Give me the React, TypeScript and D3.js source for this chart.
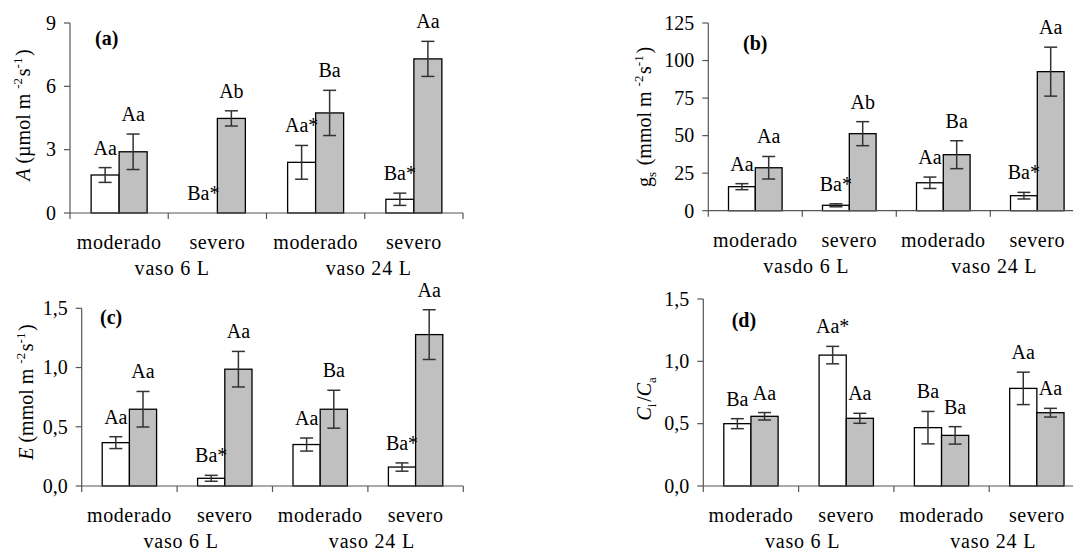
import React from "react";
import * as d3 from "d3";

// categories
const groups = ["moderado", "severo", "moderado", "severo"];
const vasoA = ["vaso 6 L", "vaso 24 L"];
const vasoB = ["vasdo 6 L", "vaso 24 L"];

// (a) A
const aWhite = [1.8, 0, 2.4, 0.65];
const aWhiteErr = [0.35, 0, 0.8, 0.29];
const aGray = [2.9, 4.48, 4.74, 7.3];
const aGrayErr = [0.84, 0.36, 1.07, 0.83];
const aWhiteLbl = ["Aa", "Ba*", "Aa*", "Ba*"];
const aGrayLbl = ["Aa", "Ab", "Ba", "Aa"];
const aTicks = [0, 3, 6, 9];

// (b) gs
const bWhite = [16, 3.6, 18.6, 10];
const bWhiteErr = [2, 1, 3.8, 2.2];
const bGray = [28.6, 51.3, 37.3, 92.6];
const bGrayErr = [7.5, 8, 9.3, 16.3];
const bWhiteLbl = ["Aa", "Ba*", "Aa", "Ba*"];
const bGrayLbl = ["Aa", "Ab", "Ba", "Aa"];
const bTicks = [0, 25, 50, 75, 100, 125];

// (c) E
const cWhite = [0.366, 0.065, 0.35, 0.16];
const cWhiteErr = [0.05, 0.025, 0.055, 0.035];
const cGray = [0.648, 0.986, 0.648, 1.278];
const cGrayErr = [0.15, 0.15, 0.16, 0.21];
const cWhiteLbl = ["Aa", "Ba*", "Aa", "Ba*"];
const cGrayLbl = ["Aa", "Aa", "Ba", "Aa"];
const cTicks = [0, 0.5, 1, 1.5];

// (d) Ci/Ca
const dWhite = [0.5, 1.05, 0.468, 0.783];
const dWhiteErr = [0.04, 0.07, 0.13, 0.13];
const dGray = [0.559, 0.543, 0.406, 0.588];
const dGrayErr = [0.03, 0.04, 0.07, 0.035];
const dWhiteLbl = ["Ba", "Aa*", "Ba", "Aa"];
const dGrayLbl = ["Aa", "Aa", "Ba", "Aa"];
const dTicks = [0, 0.5, 1, 1.5];

const FONT = "Liberation Serif, Tinos, DejaVu Serif, serif";
const comma = (d) => d3.format(".1f")(d).replace(".", ",");

const Panel = ({ p }) => {
  const x = d3
    .scaleBand()
    .domain(groups.map((g, i) => i))
    .range([p.left, p.right])
    .padding(0);
  const gw = x.bandwidth();
  const barW = gw * 0.285;
  const y = d3.scaleLinear().domain(p.domain).range([p.bottom, p.top]);

  const series = [
    { vals: p.white, err: p.whiteErr, lbl: p.whiteLbl, fill: "#ffffff", off: -barW },
    { vals: p.gray, err: p.grayErr, lbl: p.grayLbl, fill: "#c0c0c0", off: 0 },
  ];

  return (
    <g>
      {/* bars */}
      {series.map((s, si) =>
        s.vals.map((v, i) => {
          const cx = x(i) + gw / 2 + s.off;
          return (
            <rect
              key={"b" + si + i}
              x={cx}
              y={y(v)}
              width={barW}
              height={y(0) - y(v)}
              fill={s.fill}
              stroke="#000"
              strokeWidth={1.3}
            />
          );
        })
      )}
      {/* error bars */}
      {series.map((s, si) =>
        s.vals.map((v, i) => {
          if (!s.err[i]) return null;
          const cx = x(i) + gw / 2 + s.off + barW / 2;
          const y1 = y(v + s.err[i]);
          const y2 = y(v - s.err[i]);
          return (
            <g key={"e" + si + i} stroke="#333" strokeWidth={1.5}>
              <line x1={cx} x2={cx} y1={y1} y2={y2} />
              <line x1={cx - 6.5} x2={cx + 6.5} y1={y1} y2={y1} />
              <line x1={cx - 6.5} x2={cx + 6.5} y1={y2} y2={y2} />
            </g>
          );
        })
      )}
      {/* letters */}
      {series.map((s, si) =>
        s.vals.map((v, i) => {
          const cx = x(i) + gw / 2 + s.off + barW / 2;
          const top = y(v + s.err[i]);
          return (
            <text
              key={"l" + si + i}
              x={cx}
              y={top - 13}
              textAnchor="middle"
              fontSize={20}
              fill="#000"
            >
              {s.lbl[i]}
            </text>
          );
        })
      )}
      {/* axes */}
      <g stroke="#555" strokeWidth={1.2}>
        <line x1={p.left} x2={p.left} y1={y(p.domain[1])} y2={y(0)} />
        {p.ticks.map((t) => (
          <line key={t} x1={p.left - 6} x2={p.left} y1={y(t)} y2={y(t)} />
        ))}
        <line x1={p.left} x2={p.right} y1={y(0)} y2={y(0)} />
        {groups.map((g, i) => (
          <line key={i} x1={x(i)} x2={x(i)} y1={y(0)} y2={y(0) + 6} />
        ))}
        <line x1={p.right} x2={p.right} y1={y(0)} y2={y(0) + 6} />
      </g>
      {p.ticks.map((t) => (
        <text
          key={"t" + t}
          x={p.left - 14}
          y={y(t)}
          dy="0.34em"
          textAnchor="end"
          fontSize={20}
        >
          {p.fmt(t)}
        </text>
      ))}
      {groups.map((g, i) => (
        <text
          key={"g" + i}
          x={x(i) + gw / 2}
          y={y(0) + 36}
          textAnchor="middle"
          fontSize={20}
          letterSpacing={0.6}
        >
          {g}
        </text>
      ))}
      {p.vaso.map((v, i) => (
        <text
          key={"v" + i}
          x={x(i * 2) + gw + 4}
          y={y(0) + 62}
          textAnchor="middle"
          fontSize={20}
          letterSpacing={0.8}
        >
          {v}
        </text>
      ))}
      <text x={p.tagX} y={p.tagY} fontSize={20} fontWeight="bold">
        {p.tag}
      </text>
      <text
        transform={`translate(${p.titleX},${p.titleY}) rotate(-90)`}
        textAnchor="middle"
        dy="0.34em"
        fontSize={20}
      >
        {p.title}
      </text>
    </g>
  );
};

const sup = (t) => (
  <>
    <tspan dy="-8" fontSize={13}>{t}</tspan>
    <tspan dy="8">{"\u200a"}</tspan>
  </>
);
const sub = (t) => (
  <>
    <tspan dy="5" fontSize={13}>{t}</tspan>
    <tspan dy="-5">{"\u200a"}</tspan>
  </>
);

const panels = [
  {
    tag: "(a)", tagX: 95, tagY: 45,
    left: 70, right: 463, top: 23, bottom: 213,
    domain: [0, 9], ticks: aTicks, fmt: (d) => String(d),
    white: aWhite, whiteErr: aWhiteErr, gray: aGray, grayErr: aGrayErr,
    whiteLbl: aWhiteLbl, grayLbl: aGrayLbl, vaso: vasoA,
    titleX: 23, titleY: 115,
    title: (
      <>
        <tspan fontStyle="italic">A</tspan> (µmol m {sup("-2")}s{sup("-1")})
      </>
    ),
  },
  {
    tag: "(b)", tagX: 743, tagY: 50,
    left: 708.3, right: 1084.3, top: 23, bottom: 210.7,
    domain: [0, 125], ticks: bTicks, fmt: (d) => String(d),
    white: bWhite, whiteErr: bWhiteErr, gray: bGray, grayErr: bGrayErr,
    whiteLbl: bWhiteLbl, grayLbl: bGrayLbl, vaso: vasoB,
    titleX: 644, titleY: 117,
    title: (
      <>
        g{sub("s")} (mmol m {sup("-2")}s{sup("-1")})
      </>
    ),
  },
  {
    tag: "(c)", tagX: 100, tagY: 324,
    left: 81.7, right: 463.3, top: 308.3, bottom: 486,
    domain: [0, 1.5], ticks: cTicks, fmt: comma,
    white: cWhite, whiteErr: cWhiteErr, gray: cGray, grayErr: cGrayErr,
    whiteLbl: cWhiteLbl, grayLbl: cGrayLbl, vaso: vasoA,
    titleX: 26, titleY: 392,
    title: (
      <>
        <tspan fontStyle="italic">E</tspan> (mmol m {sup("-2")}s{sup("-1")})
      </>
    ),
  },
  {
    tag: "(d)", tagX: 731.7, tagY: 327,
    left: 703.3, right: 1084.5, top: 299, bottom: 486,
    domain: [0, 1.5], ticks: dTicks, fmt: comma,
    white: dWhite, whiteErr: dWhiteErr, gray: dGray, grayErr: dGrayErr,
    whiteLbl: dWhiteLbl, grayLbl: dGrayLbl, vaso: vasoA,
    titleX: 644, titleY: 398,
    title: (
      <>
        <tspan fontStyle="italic">C</tspan>{sub("i")}/<tspan fontStyle="italic">C</tspan>{sub("a")}
      </>
    ),
  },
];

export default function App() {
  return (
    <svg
      width={1073}
      height={552}
      style={{ position: "absolute", left: 0, top: 0, background: "#fff", fontFamily: FONT }}
    >
      <rect width={1073} height={552} fill="#fff" />
      {panels.map((p) => (
        <Panel key={p.tag} p={p} />
      ))}
    </svg>
  );
}
